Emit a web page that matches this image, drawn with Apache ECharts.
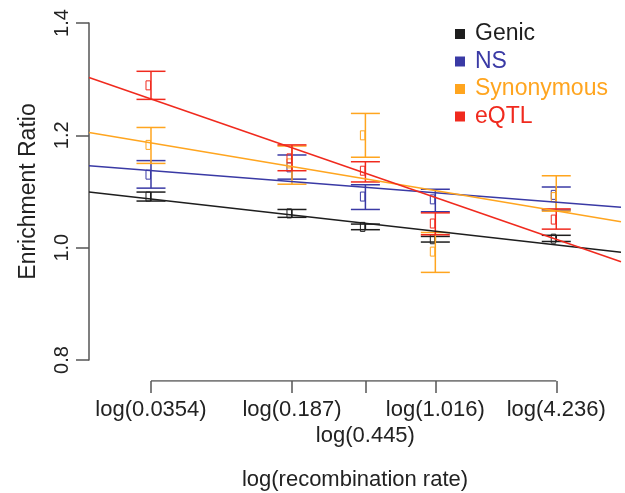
<!DOCTYPE html>
<html lang="en">
<head>
	<meta charset="UTF-8">
	<title>Enrichment Ratio vs recombination rate</title>
	<script src="https://cdn.jsdelivr.net/npm/echarts@6/dist/echarts.min.js"></script>
</head>
<body style="margin:0;background:#fff;">
    <div id="main" style="width: 625px;height:493px;"></div>
    <script type="text/javascript">

    	// recombination rate bins (tick values), shown on a natural log scale
    	var rates = [0.0354, 0.187, 0.445, 1.016, 4.236];
    	var tickLabels = ['log(0.0354)', 'log(0.187)', 'log(0.445)', 'log(1.016)', 'log(4.236)'];

    	var names = ['Genic', 'NS', 'Synonymous', 'eQTL'];
    	var colors = ['#1e1e1e', '#3a3aa5', '#ffa51f', '#f02a1e'];

    	// point estimate, lower and upper end of error bar, per bin
    	var genicMid = [1.091, 1.061, 1.037, 1.015, 1.016];
    	var genicLo  = [1.083, 1.054, 1.032, 1.010, 1.011];
    	var genicHi  = [1.099, 1.068, 1.042, 1.020, 1.022];

    	var nsMid = [1.130, 1.143, 1.091, 1.086, 1.094];
    	var nsLo  = [1.106, 1.122, 1.068, 1.064, 1.067];
    	var nsHi  = [1.155, 1.165, 1.112, 1.104, 1.108];

    	var synMid = [1.183, 1.150, 1.200, 0.993, 1.090];
    	var synLo  = [1.150, 1.113, 1.161, 0.956, 1.065];
    	var synHi  = [1.214, 1.181, 1.239, 1.027, 1.128];

    	var eqtlMid = [1.289, 1.159, 1.137, 1.043, 1.050];
    	var eqtlLo  = [1.264, 1.137, 1.117, 1.023, 1.033];
    	var eqtlHi  = [1.314, 1.183, 1.153, 1.062, 1.069];

    	// fitted lines: value at the left and right edge of the plot
    	var xRange = [-4.073, 2.208];
    	var fitLeft  = [1.099, 1.146, 1.205, 1.303];
    	var fitRight = [0.992, 1.072, 1.046, 0.975];

    	var xVals = rates.map(function (r) { return Math.log(r); });
    	var mids = [genicMid, nsMid, synMid, eqtlMid];
    	var los = [genicLo, nsLo, synLo, eqtlLo];
    	var his = [genicHi, nsHi, synHi, eqtlHi];

    	var axisColor = '#555';
    	var font = 'Liberation Sans, Arial, sans-serif';

    	function renderBar(params, api) {
    		var x = api.value(0);
    		var mid = api.coord([x, api.value(1)]);
    		var lo = api.coord([x, api.value(2)]);
    		var hi = api.coord([x, api.value(3)]);
    		var color = api.visual('color');
    		var half = 14.5;
    		var st = { stroke: color, lineWidth: 1.5, fill: null };
    		return {
    			type: 'group',
    			children: [
    				{ type: 'line', shape: { x1: hi[0], y1: hi[1], x2: lo[0], y2: lo[1] }, style: st },
    				{ type: 'line', shape: { x1: hi[0] - half, y1: hi[1], x2: hi[0] + half, y2: hi[1] }, style: st },
    				{ type: 'line', shape: { x1: lo[0] - half, y1: lo[1], x2: lo[0] + half, y2: lo[1] }, style: st },
    				{ type: 'rect', shape: { x: mid[0] - 5, y: mid[1] - 4.5, width: 4.5, height: 9 },
    				  style: { stroke: color, lineWidth: 1, fill: null } }
    			]
    		};
    	}

    	var series = [];
    	names.forEach(function (n, i) {
    		series.push({
    			name: n,
    			type: 'custom',
    			renderItem: renderBar,
    			itemStyle: { color: colors[i] },
    			encode: { x: 0, y: [1, 2, 3] },
    			data: xVals.map(function (x, k) { return [x, mids[i][k], los[i][k], his[i][k]]; }),
    			z: 2
    		});
    	});
    	names.forEach(function (n, i) {
    		series.push({
    			name: n,
    			type: 'line',
    			symbol: 'none',
    			silent: true,
    			lineStyle: { color: colors[i], width: 1.5 },
    			itemStyle: { color: colors[i] },
    			data: [[xRange[0], fitLeft[i]], [xRange[1], fitRight[i]]],
    			z: 3
    		});
    	});
    	// x axis line, only from first to last tick
    	series.push({
    		type: 'line',
    		xAxisIndex: 1,
    		yAxisIndex: 1,
    		symbol: 'none',
    		silent: true,
    		lineStyle: { color: axisColor, width: 1.5 },
    		data: [[xVals[0], 0], [xVals[xVals.length - 1], 0]]
    	});

    	var myChart = echarts.init(document.getElementById('main'));
    	var option = {
    		animation: false,
    		backgroundColor: '#fff',
    		legend: {
    			orient: 'vertical',
    			left: 450,
    			top: 17,
    			icon: 'rect',
    			itemWidth: 10,
    			itemHeight: 10,
    			itemGap: 3.5,
    			textStyle: { fontFamily: font, fontSize: 23, lineHeight: 24, padding: [0, 0, 0, 5] },
    			data: names.map(function (n, i) {
    				return { name: n, itemStyle: { color: colors[i] }, textStyle: { color: colors[i] } };
    			})
    		},
    		grid: [
    			{ left: 89, right: 4, top: 23, bottom: 133 },
    			{ left: 89, right: 4, top: 371, height: 10 }
    		],
    		xAxis: [
    			{ type: 'value', gridIndex: 0, min: xRange[0], max: xRange[1], show: false },
    			{
    				type: 'value', gridIndex: 1, min: xRange[0], max: xRange[1],
    				axisLine: { show: false },
    				splitLine: { show: false },
    				axisTick: { show: true, length: 12, customValues: xVals,
    					lineStyle: { color: axisColor, width: 1.5 } },
    				axisLabel: {
    					customValues: xVals,
    					margin: 16,
    					color: '#222',
    					fontFamily: font,
    					fontSize: 22,
    					lineHeight: 26,
    					formatter: function (v) {
    						var k = 0, best = Infinity;
    						xVals.forEach(function (x, j) {
    							if (Math.abs(x - v) < best) { best = Math.abs(x - v); k = j; }
    						});
    						// the middle label is pushed to a second row, as in the original
    						return k === 2 ? '\n' + tickLabels[k] : tickLabels[k];
    					}
    				},
    				name: 'log(recombination rate)',
    				nameLocation: 'middle',
    				nameGap: 88,
    				nameTextStyle: { color: '#222', fontFamily: font, fontSize: 22 }
    			}
    		],
    		yAxis: [
    			{
    				type: 'value', gridIndex: 0, min: 0.8, max: 1.4, interval: 0.2,
    				axisLine: { show: true, onZero: false, lineStyle: { color: axisColor, width: 1.5 } },
    				splitLine: { show: false },
    				axisTick: { show: true, length: 13, lineStyle: { color: axisColor, width: 1.5 } },
    				axisLabel: {
    					rotate: 90,
    					margin: 17,
    					color: '#222',
    					fontFamily: font,
    					fontSize: 20,
    					formatter: function (v) { return v.toFixed(1); }
    				},
    				name: 'Enrichment Ratio',
    				nameLocation: 'middle',
    				nameRotate: 90,
    				nameGap: 49,
    				nameTextStyle: { color: '#222', fontFamily: font, fontSize: 23 }
    			},
    			{ type: 'value', gridIndex: 1, min: 0, max: 1, show: false }
    		],
    		series: series
    	};
    	myChart.setOption(option);
    </script>
</body>
</html>
